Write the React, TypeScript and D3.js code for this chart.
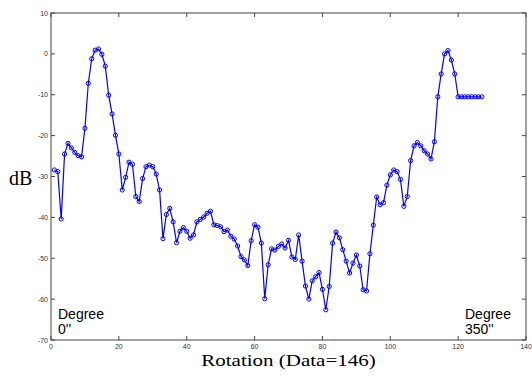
import React from "react";
import * as d3 from "d3";

const W = 532;
const H = 376;

const rotation: number[] = d3.range(1, 128);
const dB: number[] = [
  -28.4, -28.8, -40.4, -24.5, -21.9, -23.0, -24.1, -24.9, -25.2, -18.2,
  -7.2, -1.2, 0.9, 1.2, -0.1, -3.0, -10.1, -14.7, -19.9, -24.5,
  -33.3, -30.2, -26.5, -27.0, -34.9, -36.1, -30.5, -27.6, -27.2, -27.6,
  -29.4, -33.3, -45.2, -39.3, -37.8, -41.1, -46.2, -43.4, -42.5, -43.4,
  -45.1, -44.3, -41.1, -40.5, -39.9, -39.0, -38.5, -41.8, -42.0, -42.3,
  -43.5, -43.1, -44.6, -45.3, -47.0, -49.6, -50.4, -51.8, -45.7, -41.8,
  -42.4, -46.3, -59.9, -51.6, -47.7, -48.0, -47.1, -46.5, -47.5, -45.6,
  -49.7, -50.3, -44.3, -50.7, -56.8, -60.0, -55.5, -54.5, -53.5, -57.6,
  -62.6, -56.9, -46.3, -43.6, -45.0, -47.9, -50.7, -53.6, -51.2, -49.2,
  -51.9, -57.7, -58.0, -48.9, -41.9, -35.0, -36.9, -36.4, -32.1, -29.6,
  -28.4, -28.8, -30.7, -37.3, -34.9, -26.1, -22.5, -21.7, -22.5, -23.7,
  -24.5, -25.7, -21.5, -10.5, -4.9, 0.0, 0.8, -1.5, -4.9, -10.5,
  -10.5, -10.5, -10.5, -10.5, -10.5, -10.5, -10.5,
];

const xTicks: number[] = [0, 20, 40, 60, 80, 100, 120, 140];
const yTicks: number[] = [-70, -60, -50, -40, -30, -20, -10, 0, 10];

const margin = { left: 51, right: 6, top: 13, bottom: 36 };

export default function App() {
  const x = d3
    .scaleLinear()
    .domain([0, 140])
    .range([margin.left, W - margin.right]);
  const y = d3
    .scaleLinear()
    .domain([-70, 10])
    .range([H - margin.bottom, margin.top]);

  const pts: [number, number][] = rotation.map((r, i) => [r, dB[i]]);
  const line = d3
    .line<[number, number]>()
    .x((d) => x(d[0]))
    .y((d) => y(d[1]));

  const axisColor = "#444";
  const tickLen = 4;
  const x0 = x(0);
  const x1 = x(140);
  const y0 = y(-70);
  const y1 = y(10);
  const xc = (x0 + x1) / 2;

  return (
    <svg
      width={W}
      height={H}
      style={{ position: "absolute", left: 0, top: 0, background: "#fff" }}
    >
      <rect x={0} y={0} width={W} height={H} fill="#fff" />
      <rect
        x={x0}
        y={y1}
        width={x1 - x0}
        height={y0 - y1}
        fill="none"
        stroke={axisColor}
        strokeWidth={1}
      />
      {xTicks.map((t) => (
        <g key={"xt" + t}>
          <line x1={x(t)} x2={x(t)} y1={y0} y2={y0 - tickLen} stroke={axisColor} />
          <line x1={x(t)} x2={x(t)} y1={y1} y2={y1 + tickLen} stroke={axisColor} />
          <text
            x={x(t)}
            y={y0 + 9}
            textAnchor="middle"
            fontFamily="Liberation Sans, Arial, sans-serif"
            fontSize={7}
            fill="#333"
          >
            {t}
          </text>
        </g>
      ))}
      {yTicks.map((t) => (
        <g key={"yt" + t}>
          <line x1={x0} x2={x0 + tickLen} y1={y(t)} y2={y(t)} stroke={axisColor} />
          <line x1={x1} x2={x1 - tickLen} y1={y(t)} y2={y(t)} stroke={axisColor} />
          <text
            x={x0 - 3}
            y={y(t) + 2.5}
            textAnchor="end"
            fontFamily="Liberation Sans, Arial, sans-serif"
            fontSize={7}
            fill="#333"
          >
            {t}
          </text>
        </g>
      ))}
      <path d={line(pts) || ""} fill="none" stroke="#0000ff" strokeWidth={1.2} />
      {pts.map((d, i) => (
        <circle
          key={"p" + i}
          cx={x(d[0])}
          cy={y(d[1])}
          r={2.1}
          fill="none"
          stroke="#0000ff"
          strokeWidth={1}
        />
      ))}
      <text
        fontFamily="Liberation Sans, Arial, sans-serif"
        fontSize={14}
        fill="#000"
      >
        <tspan x={58} y={319}>Degree</tspan>
        <tspan x={58} y={334}>0''</tspan>
      </text>
      <text
        fontFamily="Liberation Sans, Arial, sans-serif"
        fontSize={14}
        fill="#000"
      >
        <tspan x={465} y={319}>Degree</tspan>
        <tspan x={465} y={334}>350''</tspan>
      </text>
      <text
        x={9}
        y={185}
        fontFamily="Liberation Serif, Times New Roman, serif"
        fontSize={20}
        fill="#000"
      >
        dB
      </text>
      <g transform={`translate(${xc},366) scale(1,0.76)`}>
        <text
          x={0}
          y={0}
          textAnchor="middle"
          fontFamily="Liberation Serif, Times New Roman, serif"
          fontSize={21}
          fill="#000"
        >
          Rotation (Data=146)
        </text>
      </g>
    </svg>
  );
}
